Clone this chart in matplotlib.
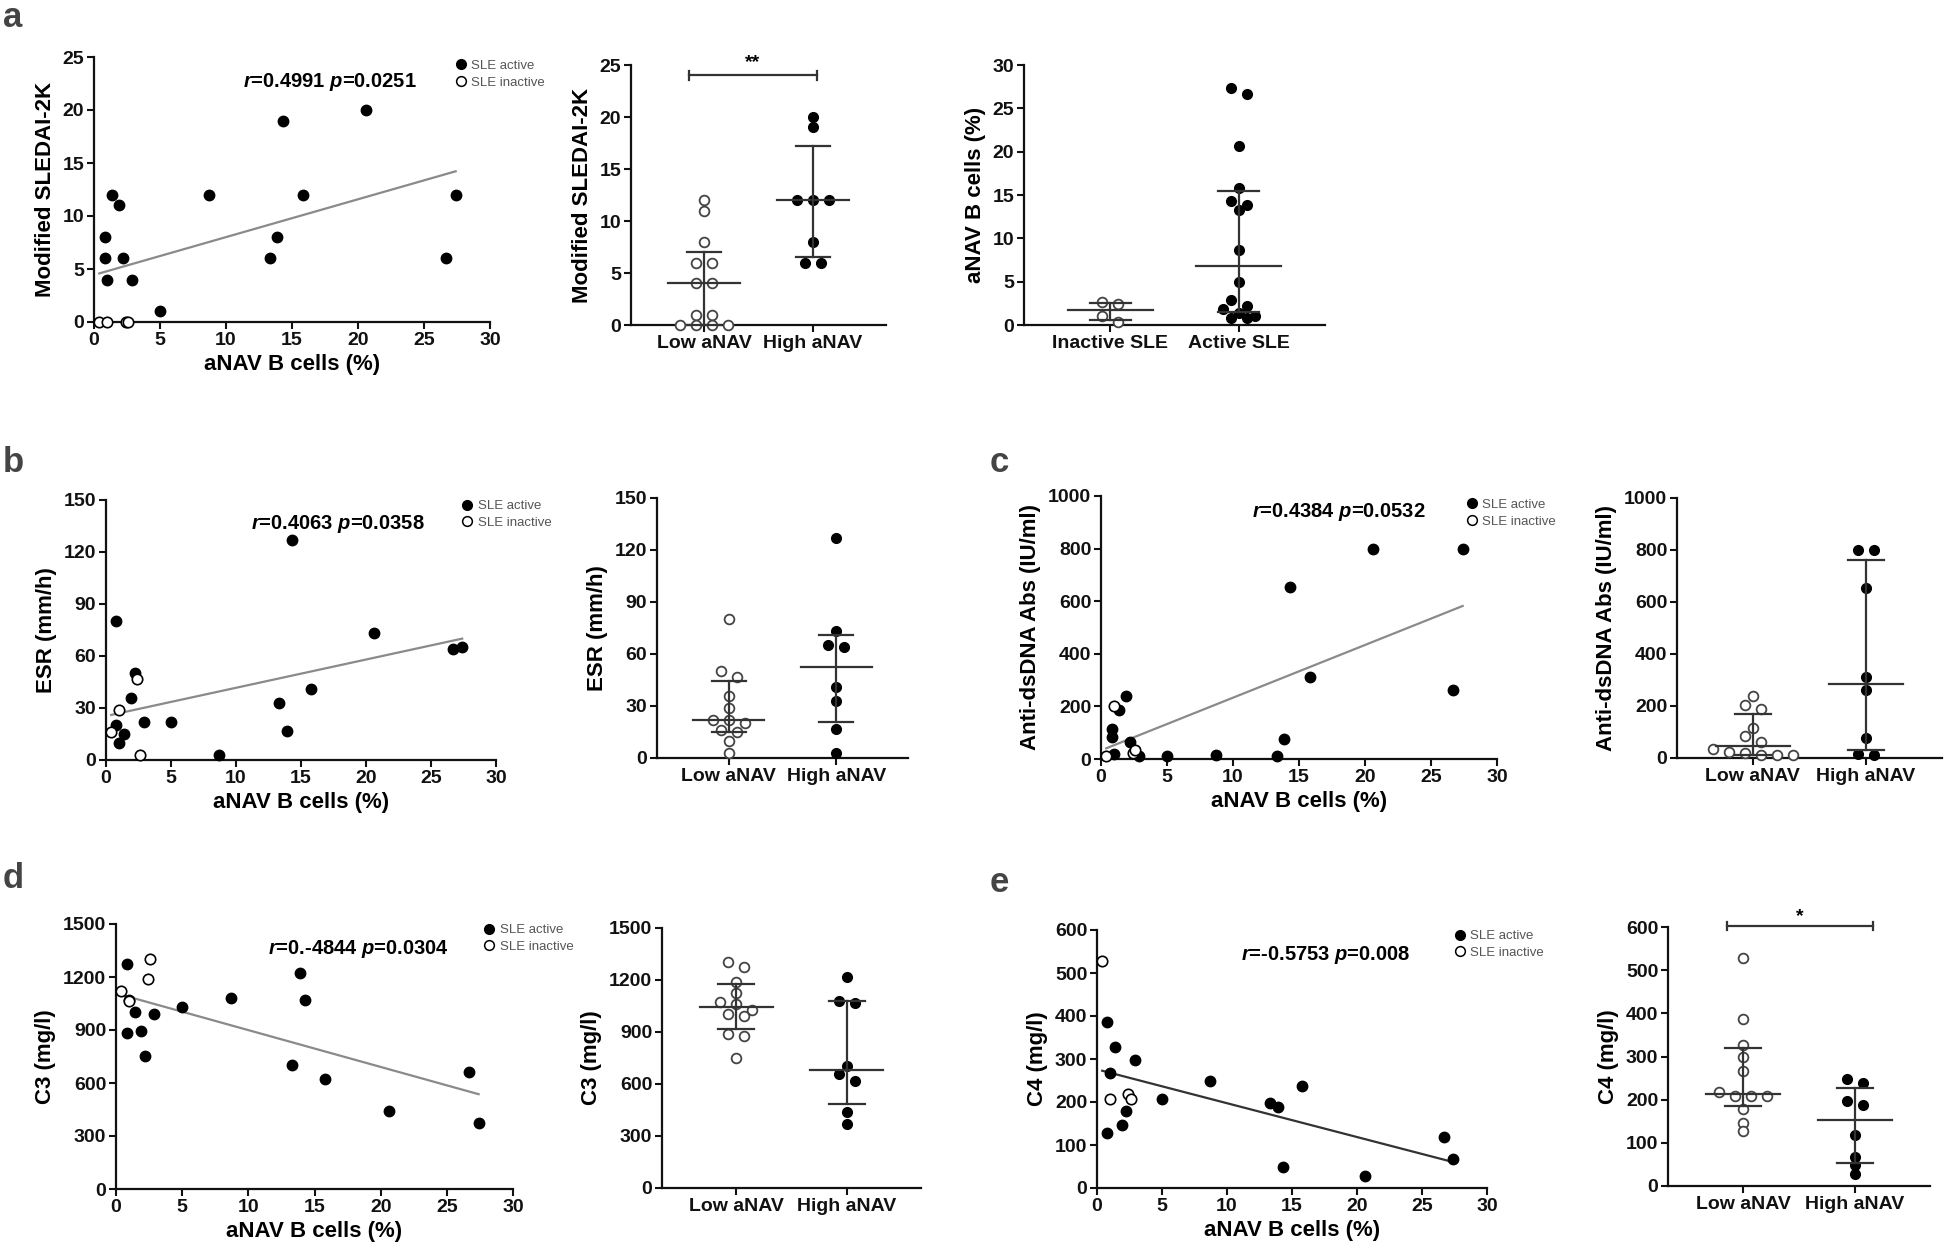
import numpy as np
import matplotlib
matplotlib.use('Agg')
import matplotlib.pyplot as plt
from matplotlib.lines import Line2D

plt.rcParams['font.family'] = ['Liberation Sans', 'DejaVu Sans']
plt.rcParams['font.weight'] = 'bold'
plt.rcParams['axes.labelweight'] = 'bold'
plt.rcParams['mathtext.fontset'] = 'custom'
plt.rcParams['mathtext.it'] = 'Liberation Sans:italic:bold'
plt.rcParams['mathtext.rm'] = 'Liberation Sans:bold'
plt.rcParams['mathtext.bf'] = 'Liberation Sans:bold'

# ---------------- data ----------------
anav_active = [0.8, 0.8, 1.0, 1.4, 1.9, 2.2, 2.9, 5.0, 8.7, 13.3, 13.9, 14.3, 15.8, 20.6, 26.7, 27.4]
anav_inactive = [0.4, 1.0, 2.4, 2.6]

sledai_active = [8, 6, 4, 12, 11, 6, 4, 1, 12, 6, 8, 19, 12, 20, 6, 12]
sledai_inactive = [0, 0, 0, 0]
esr_active = [80, 20, 10, 15, 36, 50, 22, 22, 3, 33, 17, 127, 41, 73, 64, 65]
esr_inactive = [16, 29, 47, 3]
dsdna_active = [115, 84, 20, 187, 238, 63, 10, 10, 16, 10, 76, 653, 311, 800, 261, 800]
dsdna_inactive = [10, 203, 23, 33]
c3_active = [1274, 883, 1072, 1000, 892, 755, 992, 1030, 1081, 704, 1223, 1072, 623, 443, 662, 374]
c3_inactive = [1122, 1062, 1190, 1302]
c4_active = [387, 128, 267, 327, 147, 178, 298, 208, 248, 198, 188, 48, 238, 27, 118, 67]
c4_inactive = [528, 208, 218, 208]

sledai_low = [12, 11, 8, 6, 6, 4, 4, 1, 1, 0, 0, 0, 0]
sledai_high = [20, 19, 12, 12, 12, 8, 6, 6]
esr_low = [80, 50, 47, 36, 29, 22, 22, 20, 16, 15, 10, 3]
esr_high = [127, 73, 65, 64, 41, 33, 17, 3]
dsdna_low = [240, 205, 187, 115, 84, 63, 33, 23, 20, 10, 10, 10]
dsdna_high = [800, 800, 653, 311, 261, 76, 16, 10]
c3_low = [1303, 1274, 1191, 1124, 1072, 1062, 1028, 1004, 993, 889, 879, 752]
c3_high = [1220, 1080, 1070, 704, 657, 619, 440, 368]
c4_low = [528, 387, 327, 298, 267, 218, 208, 208, 208, 178, 147, 128]
c4_high = [248, 238, 198, 188, 118, 67, 48, 27]

group_labels = ['Low aNAV', 'High aNAV']
activity_labels = ['Inactive SLE', 'Active SLE']
legend_labels = ['SLE active', 'SLE inactive']
corr_r = ['0.4991', '0.4063', '0.4384', '0.-4844', '-0.5753']
corr_p = ['0.0251', '0.0358', '0.0532', '0.0304', '0.008']

# ---------------- figure ----------------
W, H = 1946, 1255
fig = plt.figure(figsize=(W / 100, H / 100), dpi=100)
fig.patch.set_facecolor('white')


def add_ax(x0, y0, x1, y1):
    return fig.add_axes([x0 / W, 1 - y1 / H, (x1 - x0) / W, (y1 - y0) / H])


def style(ax):
    for s in ['top', 'right']:
        ax.spines[s].set_visible(False)
    for s in ['left', 'bottom']:
        ax.spines[s].set_linewidth(1.6)
        ax.spines[s].set_color('#111111')
    ax.tick_params(direction='out', length=5, width=1.5, labelsize=14, pad=2, colors='#111111')


def scatter_panel(ax, ya, yi, ymax, ystep, ylabel, r, p, tpos, lpos, lcolor):
    style(ax)
    ax.set_xlim(0, 30)
    ax.set_ylim(0, ymax)
    xa = np.asarray(anav_active, float)
    xi = np.asarray(anav_inactive, float)
    xall = np.r_[xa, xi]
    yall = np.r_[np.asarray(ya, float), np.asarray(yi, float)]
    k, b = np.polyfit(xall, yall, 1)
    xs = np.array([xall.min(), xall.max()])
    ax.plot(xs, k * xs + b, color=lcolor, lw=1.6, zorder=2)
    ax.plot(xa, ya, 'o', ms=7.5, color='black', clip_on=False, zorder=3)
    ax.plot(xi, yi, 'o', ms=7.5, mfc='white', mec='black', mew=1.2, clip_on=False, zorder=4)
    ax.set_xticks(range(0, 31, 5))
    ax.set_yticks(np.arange(0, ymax + 1e-9, ystep))
    ax.set_xlabel('aNAV B cells (%)', fontsize=16, labelpad=4)
    ax.set_ylabel(ylabel, fontsize=16, labelpad=5)
    ax.text(tpos[0], tpos[1], r'$r$=' + r + r' $p$=' + p, transform=ax.transAxes,
            ha='center', va='center', fontsize=14.5, fontweight='bold')
    handles = [Line2D([], [], marker='o', ls='', color='black', ms=7),
               Line2D([], [], marker='o', ls='', mfc='white', mec='black', mew=1.1, ms=7)]
    ax.legend(handles, legend_labels, loc='upper left', bbox_to_anchor=lpos, frameon=False,
              prop={'size': 9.5, 'weight': 'normal'}, labelcolor='#555555', handletextpad=0.3,
              borderaxespad=0, borderpad=0, labelspacing=0.35, handlelength=1.0)


def swarm_offsets(vals, py, px, thresh=8.0, spacing=16.0):
    vals = np.asarray(vals, float)
    order = np.argsort(-vals, kind='stable')
    offs = np.zeros(len(vals))
    rows, cur = [], []
    for idx in order:
        if cur and (vals[cur[0]] - vals[idx]) * py < thresh:
            cur.append(idx)
        else:
            if cur:
                rows.append(cur)
            cur = [idx]
    rows.append(cur)
    for row in rows:
        n = len(row)
        for j, idx in enumerate(row):
            offs[idx] = (j - (n - 1) / 2) * spacing / px
    return offs


def dot_panel(ax, groups, labels, ymax, ystep, ylabel, filled):
    style(ax)
    xl = (-0.67, 1.67)
    ax.set_xlim(*xl)
    ax.set_ylim(0, ymax)
    py = ax.bbox.height / ymax
    px = ax.bbox.width / (xl[1] - xl[0])
    for i, vals in enumerate(groups):
        v = np.asarray(vals, float)
        offs = swarm_offsets(v, py, px)
        if filled[i]:
            ax.plot(i + offs, v, 'o', ms=7, color='black', clip_on=False, zorder=3)
        else:
            ax.plot(i + offs, v, 'o', ms=7, mfc='white', mec='#444444', mew=1.3, clip_on=False, zorder=3)
        q1, med, q3 = np.percentile(v, [25, 50, 75], method='weibull')
        lc = '#333333'
        ax.plot([i - 0.33, i + 0.33], [med, med], color=lc, lw=1.6, zorder=4, clip_on=False)
        ax.plot([i - 0.16, i + 0.16], [q1, q1], color=lc, lw=1.6, zorder=4, clip_on=False)
        ax.plot([i - 0.16, i + 0.16], [q3, q3], color=lc, lw=1.6, zorder=4, clip_on=False)
        ax.plot([i, i], [q1, q3], color=lc, lw=1.6, zorder=4, clip_on=False)
    ax.set_xticks([0, 1])
    ax.set_xticklabels(labels, fontsize=14)
    ax.set_yticks(np.arange(0, ymax + 1e-9, ystep))
    ax.set_ylabel(ylabel, fontsize=16, labelpad=5)


def sig_bar(ax, y, x0, x1, label, tick_h, text_dy):
    lc = '#333333'
    ax.plot([x0, x1], [y, y], color=lc, lw=1.6, clip_on=False)
    ax.plot([x0, x0], [y - tick_h, y + tick_h], color=lc, lw=1.6, clip_on=False)
    ax.plot([x1, x1], [y - tick_h, y + tick_h], color=lc, lw=1.6, clip_on=False)
    ax.text((x0 + x1) / 2, y + text_dy, label, ha='center', va='center', fontsize=14, fontweight='bold')


# ---- panel a ----
a1 = add_ax(94, 57, 490, 322)
scatter_panel(a1, sledai_active, sledai_inactive, 25, 5, 'Modified SLEDAI-2K',
              corr_r[0], corr_p[0], (0.596, 0.906), (0.909, 0.99), '#8a8a8a')
a2 = add_ax(631, 65, 886, 325)
dot_panel(a2, [sledai_low, sledai_high], group_labels, 25, 5, 'Modified SLEDAI-2K', [False, True])
sig_bar(a2, 24, -0.14, 1.04, '**', 0.4, 1.2)
a3 = add_ax(1024, 65, 1325, 325)
dot_panel(a3, [anav_inactive, anav_active], activity_labels, 30, 5, 'aNAV B cells (%)', [False, True])

# ---- panel b ----
b1 = add_ax(106, 500, 496, 760)
scatter_panel(b1, esr_active, esr_inactive, 150, 30, 'ESR (mm/h)',
              corr_r[1], corr_p[1], (0.594, 0.908), (0.91, 1.0), '#8a8a8a')
b2 = add_ax(657, 498, 908, 758)
dot_panel(b2, [esr_low, esr_high], group_labels, 150, 30, 'ESR (mm/h)', [False, True])

# ---- panel c ----
c1 = add_ax(1101, 496, 1497, 759)
scatter_panel(c1, dsdna_active, dsdna_inactive, 1000, 200, 'Anti-dsDNA Abs (IU/ml)',
              corr_r[2], corr_p[2], (0.60, 0.94), (0.919, 0.99), '#8a8a8a')
c2 = add_ax(1677, 498, 1942, 758)
dot_panel(c2, [dsdna_low, dsdna_high], group_labels, 1000, 200, 'Anti-dsDNA Abs (IU/ml)', [False, True])

# ---- panel d ----
d1 = add_ax(116, 924, 513, 1189)
scatter_panel(d1, c3_active, c3_inactive, 1500, 300, 'C3 (mg/l)',
              corr_r[3], corr_p[3], (0.61, 0.906), (0.924, 1.0), '#8a8a8a')
d2 = add_ax(662, 928, 921, 1188)
dot_panel(d2, [c3_low, c3_high], group_labels, 1500, 300, 'C3 (mg/l)', [False, True])

# ---- panel e ----
e1 = add_ax(1097, 930, 1487, 1188)
scatter_panel(e1, c4_active, c4_inactive, 600, 100, 'C4 (mg/l)',
              corr_r[4], corr_p[4], (0.587, 0.903), (0.913, 1.0), '#333333')
e2 = add_ax(1668, 927, 1930, 1186)
dot_panel(e2, [c4_low, c4_high], group_labels, 600, 100, 'C4 (mg/l)', [False, True])
sig_bar(e2, 602, -0.14, 1.16, '*', 10, 22)

# ---- panel letters ----
for letter, (x, y) in zip('abcde', [(3, 27), (3, 472), (990, 472), (3, 888), (990, 892)]):
    fig.text(x / W, 1 - y / H, letter, fontsize=25, fontweight='bold', color='#444444',
             ha='left', va='baseline')

fig.savefig('out.png', dpi=100, facecolor='white')
